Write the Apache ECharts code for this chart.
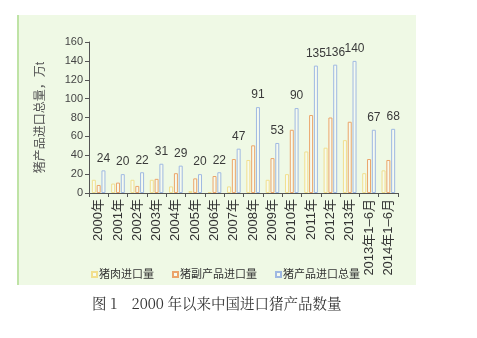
<!DOCTYPE html>
<html><head><meta charset="utf-8">
<script src="https://cdn.jsdelivr.net/npm/echarts@6/dist/echarts.min.js"></script>
<style>html,body{margin:0;padding:0;background:#fff}#c{width:477px;height:338px}</style>
</head><body><div id="c"></div>
<script>
const categories = ['2000年','2001年','2002年','2003年','2004年','2005年','2006年','2007年','2008年','2009年','2010年','2011年','2012年','2013年','2013年1–6月','2014年1–6月'];
const porkImports = [14,10,14,14,7,2,1,7,35,14,20,44,48,56,21,24];
const byproductImports = [8.5,11,7.5,15,21,15.5,18,36,50.5,37,67,82.6,80,75.5,36,35];
const totalImports = [24,20,22,31,29,20,22,47,91,53,90,135,136,140,67,68];
const seriesNames = ['猪肉进口量','猪副产品进口量','猪产品进口总量'];
const yTicks = [0,20,40,60,80,100,120,140,160];

const FONT = '"Liberation Sans", "Noto Sans CJK SC", sans-serif';
const chart = echarts.init(document.getElementById('c'), null, {renderer:'canvas'});
const fill = '#f6fbef';
function bar(name, data, color, withLabel){
  return {
    name, type:'bar', data, barWidth:4, barGap:'20%',
    itemStyle:{color:fill, borderColor:color, borderWidth:1},
    label: withLabel ? {show:true, position:'top', distance:6, color:'#3a3a3a', fontSize:12, fontFamily:FONT} : {show:false},
    emphasis:{disabled:true}
  };
}
chart.setOption({
  animation:false,
  backgroundColor:'#fff',
  graphic:[
    {type:'rect', z:-10, shape:{x:17,y:15,width:399,height:270}, style:{fill:'#eff9e5'}},
    {type:'rect', z:-9, shape:{x:17,y:15,width:2,height:270}, style:{fill:'#bfe3a6'}},
    {type:'text', left:92, top:296, style:{text:'图 1　2000 年以来中国进口猪产品数量', fill:'#333', fontSize:14.5, fontFamily:'"Noto Serif CJK SC","Noto Sans CJK SC", serif'}}
  ],
  grid:{left:89, right:79, top:42, bottom:145},
  legend:{
    data:seriesNames, left:86, top:264, itemWidth:5, itemHeight:5, itemGap:18, icon:'rect',
    textStyle:{color:'#333', fontSize:11, fontFamily:FONT, padding:[0,0,0,-3]}
  },
  xAxis:{
    type:'category', data:categories,
    axisLine:{lineStyle:{color:'#555', width:1}},
    axisTick:{show:true, length:4, lineStyle:{color:'#555'}},
    axisLabel:{rotate:90, interval:0, fontSize:13, color:'#333', margin:6, fontFamily:FONT}
  },
  yAxis:{
    type:'value', min:0, max:160, interval:20,
    name:'猪产品进口总量，万t', nameLocation:'middle', nameRotate:90, nameGap:42,
    nameTextStyle:{color:'#555', fontSize:12, fontFamily:FONT},
    axisLine:{show:true, lineStyle:{color:'#555'}},
    axisTick:{show:true, length:4, lineStyle:{color:'#555'}},
    splitLine:{show:false},
    axisLabel:{fontSize:11, color:'#444', margin:6, fontFamily:FONT,
      formatter:v=>yTicks.includes(v)?String(v):''}
  },
  series:[
    bar(seriesNames[0], porkImports, '#f1df8e', false),
    bar(seriesNames[1], byproductImports, '#eba56a', false),
    bar(seriesNames[2], totalImports, '#9fb9e2', true)
  ]
});
</script></body></html>
